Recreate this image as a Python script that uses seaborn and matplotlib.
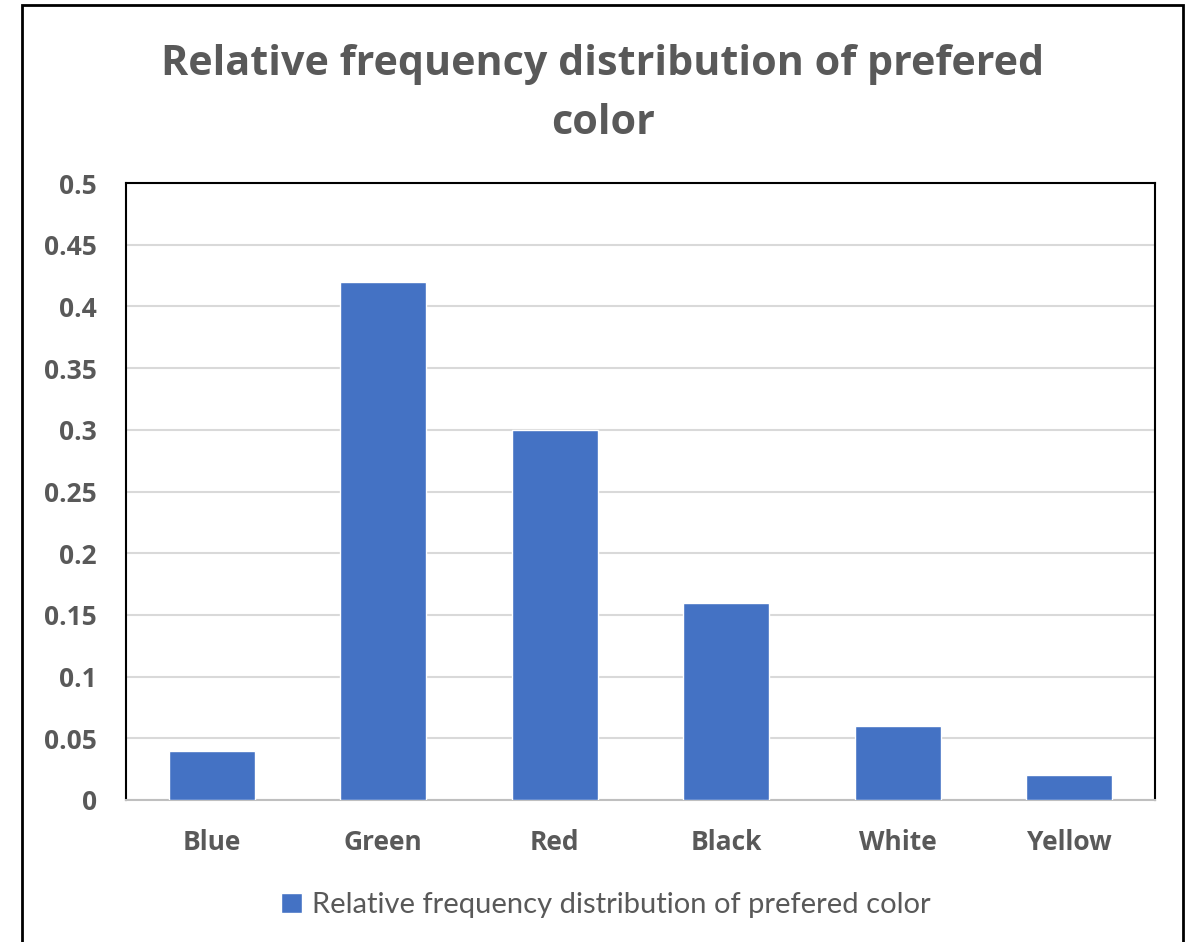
import matplotlib
matplotlib.use("Agg")
import matplotlib.pyplot as plt
from matplotlib.patches import Rectangle
import seaborn as sns
import pandas as pd

categories = ["Blue", "Green", "Red", "Black", "White", "Yellow"]
rel_freq = [0.04, 0.42, 0.30, 0.16, 0.06, 0.02]
y_ticks = [0, 0.05, 0.1, 0.15, 0.2, 0.25, 0.3, 0.35, 0.4, 0.45, 0.5]
y_tick_labels = ["0", "0.05", "0.1", "0.15", "0.2", "0.25", "0.3", "0.35", "0.4", "0.45", "0.5"]
series_name = "Relative frequency distribution of prefered color"
title_text = "Relative frequency distribution of prefered\ncolor"

sns.set_theme(style="white")
plt.rcParams["font.family"] = ["Lato", "DejaVu Sans"]
bold_family = ["Open Sans", "DejaVu Sans"]

W, H = 1197, 942
fig = plt.figure(figsize=(W / 100, H / 100), dpi=100)
fig.patch.set_facecolor("white")

# outer chart frame
fig.patches.append(Rectangle((22 / W, -0.05), (1183 - 22) / W, (H - 5) / H + 0.05,
                             transform=fig.transFigure, fill=False,
                             edgecolor="black", linewidth=2, zorder=0))

left, right, top, bottom = 126, 1155, 183, 800
ax = fig.add_axes([left / W, 1 - bottom / H, (right - left) / W, (bottom - top) / H])

df = pd.DataFrame({"color": categories, "value": rel_freq})
sns.barplot(data=df, x="color", y="value", color="#4472C4", width=0.5,
            saturation=1, ax=ax, zorder=3, label=series_name)

ax.set_ylim(0, 0.5)
ax.set_xlim(-0.5, len(categories) - 0.5)
ax.set_yticks(y_ticks)
ax.set_yticklabels(y_tick_labels, family=bold_family, fontweight="bold",
                   fontsize=19, color="#595959")
ax.set_xticks(range(len(categories)))
ax.set_xticklabels(categories, family=bold_family, fontweight="bold",
                   fontsize=19, color="#595959")
ax.grid(axis="y", color="#D9D9D9", linewidth=1.5, zorder=0)
ax.set_axisbelow(True)
ax.set_xlabel("")
ax.set_ylabel("")

for side in ["left", "top", "right"]:
    ax.spines[side].set_color("black")
    ax.spines[side].set_linewidth(1.5)
ax.spines["bottom"].set_color("#BFBFBF")
ax.spines["bottom"].set_linewidth(1.5)

ax.tick_params(axis="y", length=0, pad=21)
ax.tick_params(axis="x", length=0, pad=21)

fig.text(603 / W, 1 - 94 / H, title_text, ha="center", va="center",
         family=bold_family, fontsize=29.7, fontweight="bold", color="#595959",
         linespacing=1.6)

leg = ax.legend(loc="center", bbox_to_anchor=(606 / W, 1 - 905 / H),
                bbox_transform=fig.transFigure, frameon=False, fontsize=21,
                handlelength=0.7, handleheight=0.7, handletextpad=0.35)
for t in leg.get_texts():
    t.set_color("#595959")

fig.savefig("out.png", dpi=100)
